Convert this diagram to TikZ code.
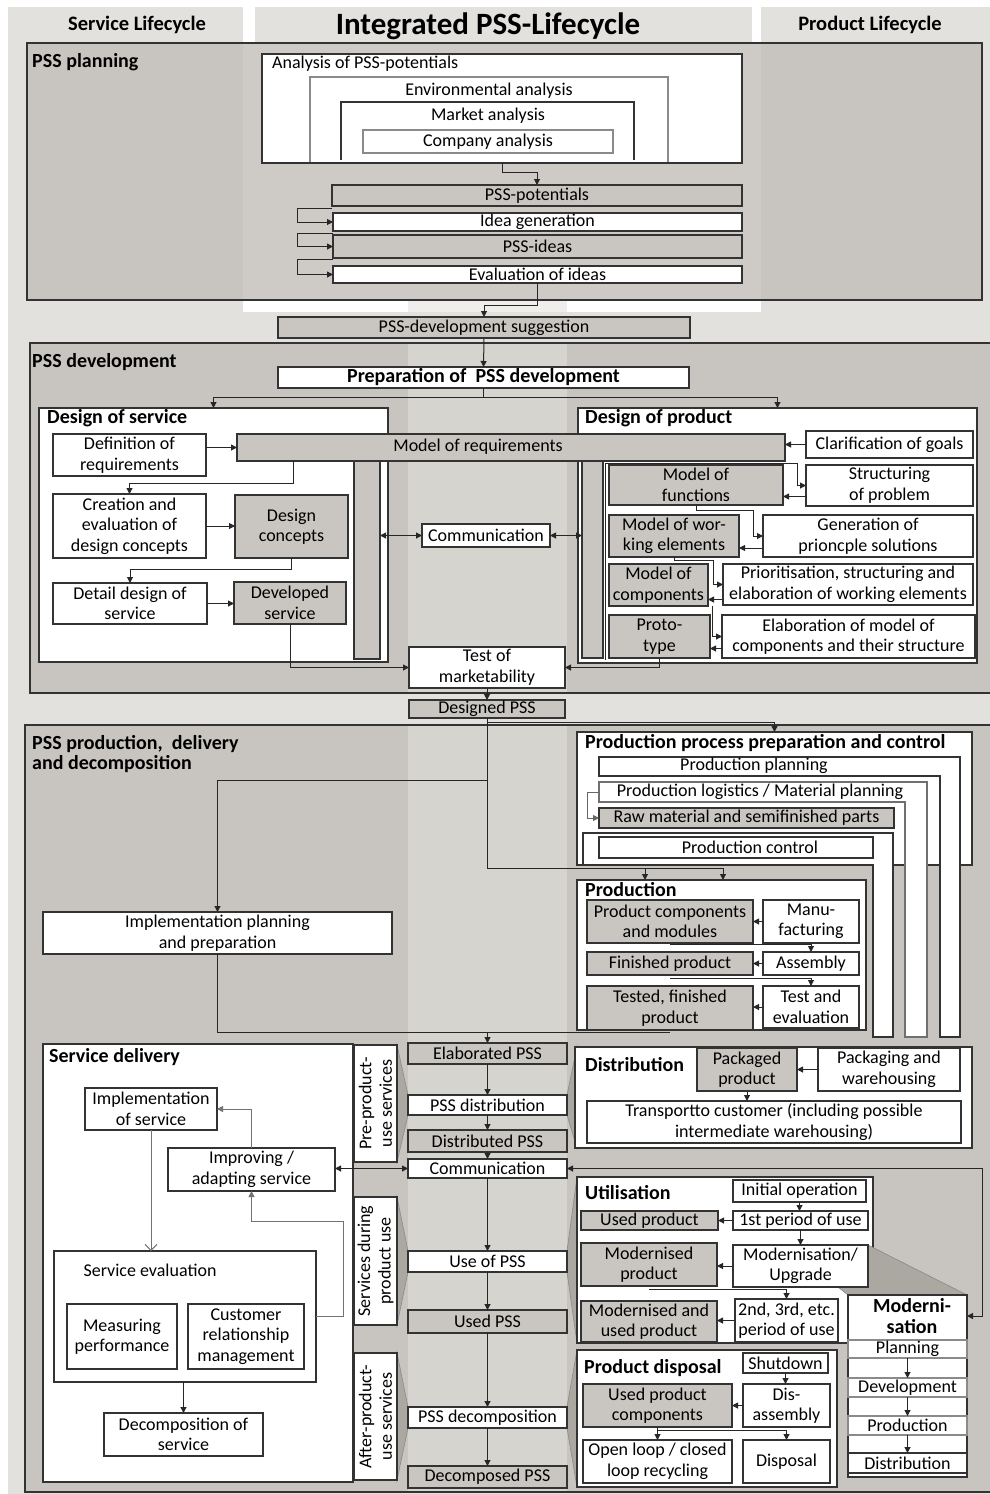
\documentclass[tikz,border=0pt]{standalone}
\usepackage{fontspec}
\setmainfont{Carlito}
\usetikzlibrary{arrows.meta}
\definecolor{colbg}{HTML}{E2E1DD}
\definecolor{secg}{HTML}{C2BFB9}
\definecolor{nodeg}{HTML}{C9C6C1}
\definecolor{fung}{HTML}{ABA7A1}
\definecolor{bd}{HTML}{333333}
\definecolor{lbd}{HTML}{8A8A8A}
\newcommand\fnorm{\fontsize{18}{20.5}\selectfont}
\newcommand\fbold{\fontsize{20}{20.5}\selectfont\bfseries}
\newcommand\fhead{\fontsize{20.5}{22}\selectfont\bfseries}
\newcommand\ftitle{\fontsize{31}{33}\selectfont\bfseries}
% box from corner (x1,y1) to corner (x2,y2)
\newcommand\mkbox[7]{%
  \pgfmathsetmacro\bxw{#5-#3}%
  \pgfmathsetmacro\bxh{#6-#4}%
  \node[#1,anchor=north west,minimum width=\bxw pt,minimum height=\bxh pt] (#2) at (#3,#4) {#7};}
\tikzset{
  base/.style={draw=bd,line width=1.1pt,inner sep=0pt,outer sep=0pt,align=center,font=\fnorm},
  wb/.style={base,fill=white},
  gb/.style={base,fill=nodeg},
  lw/.style={base,fill=white,draw=lbd},
  tk/.style={line width=1.8pt},
  txt/.style={font=\fnorm,inner sep=0pt},
  lbl/.style={font=\fbold,inner sep=0pt,anchor=west},
  sec/.style={fill=secg,fill opacity=0.8},
  secb/.style={draw=bd,line width=1.3pt},
  tp/.tip={Triangle[length=6pt,width=6pt]},
  arr/.style={draw=black!85,line width=1pt,-{tp}},
  arrb/.style={draw=black!85,line width=1pt,{tp}-{tp}},
  ln/.style={draw=black!85,line width=1pt},
  garr/.style={draw=black!55,line width=1pt,-{tp}},
  fun/.style={fill=fung,draw=lbd,line width=0.6pt},
  vl/.style={base,fill=white,rotate=90},
}
\begin{document}
\begin{tikzpicture}[x=1pt,y=-1pt]
\useasboundingbox (0,0) rectangle (990,1494);
% page and column backgrounds
\fill[white] (0,0) rectangle (990,1494);
\fill[colbg] (8,7) rectangle (990,1494);
\fill[white] (243,0) rectangle (255,43);
\fill[white] (752,0) rectangle (761,43);
\fill[white] (243,43) rectangle (761,312);
\node[font=\fhead] (svlc) at (137,25) {Service Lifecycle};
\node[font=\ftitle] (title) at (488,26) {Integrated PSS-Lifecycle};
\node[font=\fhead] (prlc) at (870,25) {Product Lifecycle};
% phase panels
\fill[sec] (27,43) rectangle (982,300);
\fill[sec] (30,343) rectangle (995,693);
\fill[sec] (25,725) rectangle (995,1492);
\fill[colbg,opacity=0.55] (408,300) rectangle (567,1494);
\draw[secb] (27,43) rectangle (982,300);
\draw[secb] (30,343) rectangle (995,693);
\draw[secb] (25,725) rectangle (995,1492);
\node[lbl] (plan) at (32,62) {PSS planning};
\node[lbl] (dev) at (32,362) {PSS development};
\node[lbl,anchor=north west,align=left] (prd) at (32,735) {PSS production,\ \ delivery\\and decomposition};

% ---------------- PSS planning
\mkbox{wb}{apot}{262}{54}{742}{163}{}
\node[txt,anchor=west] (apott) at (272,64) {Analysis of PSS-potentials};
\draw[draw=lbd,line width=1.1pt,fill=white] (310,163) -- (310,77) -- (668,77) -- (668,163);
\node[txt] (envt) at (489,91) {Environmental analysis};
\draw[draw=bd,line width=1.3pt] (341,160) -- (341,102) -- (634,102) -- (634,160);
\node[txt] (mktt) at (488,116) {Market analysis};
\mkbox{lw}{comp}{363}{130}{613}{153}{Company analysis}
\draw[draw=bd,line width=1.1pt] (262,163) -- (742,163);
\mkbox{gb}{pot}{332}{185}{742}{206}{PSS-potentials}
\mkbox{wb}{idg}{333}{213}{742}{231}{Idea generation}
\mkbox{gb}{ids}{333}{235}{742}{258}{PSS-ideas}
\mkbox{wb}{evi}{333}{266}{742}{283}{Evaluation of ideas}
\draw[arr] (apot.south) -- ++(0,9) -| (pot.north);
\draw[arr] ([yshift=-2pt]pot.south west) -| ([xshift=-36pt]idg.west) -- (idg.west);
\draw[arr] ([yshift=-2pt]idg.south west) -| ([xshift=-36pt]ids.west) -- (ids.west);
\draw[arr] ([yshift=-1pt]ids.south west) -| ([xshift=-36pt]evi.west) -- (evi.west);
\mkbox{gb}{sug}{278}{317}{690}{338}{PSS-development suggestion}
\draw[arr] (evi.south) -- ++(0,22) -| (sug.north);

% ---------------- PSS development
\mkbox{wb}{prep}{278}{367}{689}{388}{\fbold Preparation of\ \ PSS development}
\draw[arr] (sug.south) -- (prep.north);
\mkbox{wb}{dsv}{39}{408}{388}{662}{}
\mkbox{wb}{dpr}{578}{408}{977}{663}{}
\node[lbl] (dsvt) at (47,418) {Design of service};
\node[lbl] (dprt) at (585,418) {Design of product};
\draw[ln] (prep.south) -- ++(0,9) coordinate (pj);
\draw[arr] (pj) -| (dsv.north);
\draw[arr] (pj) -| (dpr.north);

\mkbox{wb}{defr}{53}{434}{206}{476}{Definition of\\requirements}
\mkbox{gb}{mreq}{237}{434}{785}{461}{}
\node[txt] (mreqt) at (478,447) {Model of requirements};
\draw[arr] (defr.east |- mreq.west) -- (mreq.west);
\mkbox{wb}{cre}{53}{494}{206}{558}{Creation and\\evaluation of\\design concepts}
\mkbox{gb}{dcon}{235}{495}{348}{558}{Design\\concepts}
\draw[arr] (cre.east) -- (dcon.west |- cre.east);
\coordinate (x293) at (293,0);
\draw[arr] (mreq.south -| x293) -- ++(0,22) -| (cre.north);
\mkbox{wb}{ddet}{53}{583}{207}{624}{Detail design of\\service}
\mkbox{gb}{dsrv}{234}{582}{346}{624}{Developed\\service}
\draw[arr] (ddet.east) -- (dsrv.west |- ddet.east);
\draw[arr] (dcon.south) -- ++(0,11) -| (ddet.north);
\mkbox{gb}{svbar}{354}{461}{380}{659}{}
\mkbox{wb}{com1}{422}{524}{550}{547}{Communication}
\mkbox{gb}{pdbar}{582}{461}{603}{658}{}
\draw[arrb] (svbar.east |- com1.west) -- (com1.west);
\draw[arrb] (com1.east) -- (pdbar.west |- com1.east);
\mkbox{wb}{tmk}{409}{647}{565}{688}{Test of\\marketability}
\draw[arr] (dsrv.south) |- (tmk.west);

\mkbox{wb}{clar}{806}{431}{973}{458}{Clarification of goals}
\draw[arr] (clar.west) -- (mreq.east |- clar.west);
\draw[ln,line width=0.6pt] (605,660) -- (605,463) -- (790,463);
\mkbox{gb}{mfun}{609}{465}{783}{505}{Model of\\functions}
\mkbox{wb,tk}{stru}{806}{465}{973}{506}{Structuring\\of problem}
\draw[arr] ([yshift=-2pt]mreq.south east) -- ++(12,0) |- (stru.west);
\draw[arr] ([yshift=-11pt]stru.west) -- ([yshift=-11pt]stru.west -| mfun.east);
\mkbox{gb}{mwrk}{609}{515}{739}{557}{Model of wor-\\king elements}
\mkbox{wb}{gen}{763}{515}{973}{557}{Generation of\\prioncple solutions}
\draw[arr] (mfun.south) -- ++(0,5) -- ++(57,0) |- (gen.west);
\draw[arr] ([yshift=-12pt]gen.west) -- ([yshift=-12pt]gen.west -| mwrk.east);
\mkbox{gb}{mcmp}{609}{564}{708}{606}{Model of\\components}
\mkbox{wb}{prio}{723}{564}{973}{605}{Prioritisation, structuring and\\elaboration of working elements}
\draw[arr] (mwrk.south) -- ++(0,3) -- ++(39,0) |- (prio.west);
\draw[arr] ([yshift=-15pt]prio.west) -- ([yshift=-15pt]prio.west -| mcmp.east);
\mkbox{gb}{prot}{609}{615}{710}{658}{Proto-\\type}
\mkbox{wb}{elab}{722}{615}{975}{658}{Elaboration of model of\\components and their structure}
\draw[arr] ([xshift=4pt]mcmp.south east) |- (elab.west);
\draw[arr] ([yshift=-12pt]elab.west) -- ([yshift=-12pt]elab.west -| prot.east);
\draw[arr] (prot.south) |- (tmk.east);
\mkbox{gb}{dpss}{409}{700}{565}{718}{Designed PSS}
\draw[arr] (tmk.south) -- (dpss.north);

% ---------------- PSS production, delivery and decomposition
\mkbox{wb}{impl}{43}{912}{392}{954}{Implementation planning\\and preparation}
\draw[arr] (dpss.south) -- ++(0,62) -| (impl.north);
\mkbox{wb}{ppc}{577}{732}{972}{865}{}
\node[lbl] (ppct) at (585,743) {Production process preparation and control};
\draw[arr] ([yshift=-4pt]dpss.south) -| (ppc.north);
\draw[fill=white,draw=bd,line width=1.1pt] (599,757) -- (960,757) -- (960,1037) -- (940,1037) -- (940,776) -- (599,776) -- cycle;
\node[txt] (pplt) at (754,766) {Production planning};
\draw[fill=white,draw=bd!70,line width=1.1pt] (599,782) -- (927,782) -- (927,1037) -- (905,1037) -- (905,802) -- (599,802) -- cycle;
\node[txt] (plgt) at (760,792) {Production logistics / Material planning};
\mkbox{gb}{raw}{599}{808}{894}{828}{Raw material and semifinished parts}
\coordinate (plgw) at (599,792);
\draw[arr,draw=black!60] (plgw) -- ++(-12,0) |- (raw.west);
\draw[fill=white,draw=bd,line width=1.1pt] (583,833) -- (893,833) -- (893,1037) -- (873,1037) -- (873,865) -- (583,865) -- cycle;
\mkbox{wb}{pctl}{599}{837}{873}{858}{}
\node[txt] (pctt) at (750,847) {Production control};
\coordinate (pj2) at (723,868);
\draw[ln] (dpss.south) |- (pj2);
\mkbox{wb}{prod}{577}{880}{866}{1030}{}
\node[lbl] (prodt) at (585,890) {Production};
\draw[arr] (pj2) -- (pj2 |- prod.north);
\coordinate (x645) at (645,0);
\draw[arr] (x645 |- pj2) -- (x645 |- prod.north);
\mkbox{gb}{pcm}{587}{900}{753}{943}{Product components\\and modules}
\mkbox{wb}{manu}{763}{900}{859}{943}{Manu-\\facturing}
\draw[arr] (manu.west) -- (pcm.east);
\mkbox{gb}{fin}{587}{952}{753}{975}{Finished product}
\mkbox{wb}{asm}{763}{952}{859}{975}{Assembly}
\draw[arr] ([yshift=-1pt]pcm.south) -| (asm.north);
\draw[arr] (asm.west) -- (fin.east);
\mkbox{gb}{tst}{587}{986}{753}{1030}{Tested, finished\\product}
\mkbox{wb}{tev}{763}{986}{859}{1028}{Test and\\evaluation}
\draw[arr] ([yshift=-3pt]fin.south) -| (tev.north);
\draw[arr] (tev.west) -- (tst.east |- tev.west);

% zoom funnels
\draw[fun] (397,1045) -- (408,1095) -- (408,1115) -- (397,1162) -- cycle;
\draw[fun] (567,1095) -- (577,1047) -- (577,1148) -- (567,1115) -- cycle;
\draw[fun] (397,1197) -- (408,1251) -- (408,1272) -- (397,1325) -- cycle;
\draw[fun] (567,1251) -- (577,1177) -- (577,1343) -- (567,1272) -- cycle;
\draw[fun] (397,1353) -- (408,1407) -- (408,1428) -- (397,1480) -- cycle;
\draw[fun] (567,1407) -- (577,1350) -- (577,1487) -- (567,1428) -- cycle;

% central PSS chain
\mkbox{gb}{epss}{408}{1043}{567}{1064}{Elaborated PSS}
\draw[arr] (impl.south) -- ++(0,78) -| (epss.north);
\draw[ln] ([yshift=-2pt]tst.south) -- ([yshift=-2pt]tst.south -| epss.north);
\mkbox{wb}{pdis}{408}{1095}{567}{1115}{PSS distribution}
\mkbox{gb}{dps2}{408}{1130}{567}{1152}{Distributed PSS}
\mkbox{wb}{com2}{408}{1159}{567}{1178}{Communication}
\mkbox{wb}{upss}{408}{1251}{567}{1272}{Use of PSS}
\mkbox{gb}{usps}{408}{1310}{567}{1333}{Used PSS}
\mkbox{wb}{pdec}{408}{1407}{567}{1428}{PSS decomposition}
\mkbox{gb}{dcps}{408}{1466}{567}{1488}{Decomposed PSS}
\draw[arr] (epss.south) -- (pdis.north);
\draw[arr] (pdis.south) -- (dps2.north);
\draw[arr] (dps2.south) -- (com2.north);
\draw[arr] (com2.south) -- (upss.north);
\draw[arr] (upss.south) -- (usps.north);
\draw[arr] (usps.south) -- (pdec.north);
\draw[arr] (pdec.south) -- (dcps.north);

% service delivery
\mkbox{wb}{sdel}{43}{1044}{353}{1482}{}
\node[lbl] (sdelt) at (49,1057) {Service delivery};
\mkbox{wb}{imps}{85}{1088}{217}{1130}{Implementation\\of service}
\mkbox{wb}{impr}{168}{1148}{335}{1191}{Improving /\\adapting service}
\draw[garr] (impr.north) |- (imps.east);
\mkbox{wb}{sev}{54}{1251}{316}{1382}{}
\node[txt] (sevt) at (150,1270) {Service evaluation};
\draw[draw=black!55,line width=1pt,-{Straight Barb[length=6pt,width=12pt]}] (imps.south) -- (imps.south |- sev.north);
\mkbox{wb,tk}{meas}{67}{1304}{177}{1369}{Measuring\\performance}
\mkbox{wb,tk}{crm}{188}{1304}{304}{1369}{Customer\\relationship\\management}
\coordinate (g1) at (343,1221);
\draw[garr] (sev.east) -| (g1) -| (impr.south);
\mkbox{wb}{dsv2}{104}{1413}{263}{1456}{Decomposition of\\service}
\draw[arr] (dsv2.north |- sev.south) -- (dsv2.north);
\node[vl,minimum width=117pt,minimum height=43pt] (prel) at (375.5,1103.5) {Pre-product-\\use services};
\node[vl,minimum width=128pt,minimum height=43pt] (durl) at (375.5,1261) {Services during\\product use};
\node[vl,minimum width=127pt,minimum height=43pt] (aftl) at (375.5,1416.5) {After-product-\\use services};
\draw[arrb] (impr.east |- com2.west) -- (com2.west);

% distribution
\mkbox{wb}{dist}{575}{1047}{972}{1148}{}
\node[lbl] (distt) at (585,1065) {Distribution};
\mkbox{gb}{pkd}{697}{1048}{797}{1091}{Packaged\\product}
\mkbox{wb}{pkw}{818}{1048}{960}{1091}{Packaging and\\warehousing}
\draw[arr] (pkw.west) -- (pkd.east);
\mkbox{wb}{trn}{587}{1101}{961}{1143}{Transportto customer (including possible\\intermediate warehousing)}
\draw[arr] (pkd.south) -- (pkd.south |- trn.north);

% utilisation
\mkbox{wb}{util}{577}{1177}{873}{1343}{}
\node[lbl] (utilt) at (585,1193) {Utilisation};
\draw[fun] (868,1245) -- (967,1295) -- (848,1295) -- (838,1287) -- cycle;
\mkbox{wb}{iop}{733}{1180}{866}{1202}{Initial operation}
\mkbox{wb,tk}{p1}{733}{1211}{868}{1230}{1st period of use}
\mkbox{gb}{usp}{581}{1211}{718}{1230}{Used product}
\draw[arr] (iop.south) -- (iop.south |- p1.north);
\draw[arr] (p1.west) -- (usp.east);
\mkbox{gb}{mdp}{581}{1243}{717}{1286}{Modernised\\product}
\mkbox{wb}{mup}{733}{1245}{868}{1287}{Modernisation/\\Upgrade}
\draw[arr] (p1.south) -- (p1.south |- mup.north);
\draw[arr] (mup.west) -- (mdp.east |- mup.west);
\mkbox{gb}{mu2}{581}{1301}{717}{1342}{Modernised and\\used product}
\mkbox{wb}{p2}{735}{1299}{838}{1342}{2nd, 3rd, etc.\\period of use}
\draw[arr] ([yshift=-3pt]mdp.south) -| (p2.north);
\draw[arr] (p2.west) -- (mu2.east |- p2.west);

% modernisation
\mkbox{wb}{mod}{848}{1295}{967}{1477}{}
\node[font=\fbold,align=center,inner sep=0pt] (modt) at (912,1316) {Moderni-\\sation};
\mkbox{lw}{mpl}{848}{1340}{967}{1358}{Planning}
\mkbox{lw}{mdv}{848}{1378}{967}{1397}{Development}
\mkbox{lw}{mpr}{848}{1416}{967}{1435}{Production}
\mkbox{wb}{mds}{848}{1453}{967}{1473}{Distribution}
\draw[arr] (mpl.south) -- (mdv.north);
\draw[arr] (mdv.south) -- (mpr.north);
\draw[arr] (mpr.south) -- (mds.north);
\coordinate (x982) at (982,0);
\draw[arrb] (com2.east) -- (com2.east -| x982) |- ([yshift=-21pt]mod.north east);

% product disposal
\mkbox{wb}{pdsp}{577}{1350}{837}{1487}{}
\node[lbl] (pdspt) at (584,1368) {Product disposal};
\mkbox{wb}{shd}{743}{1353}{828}{1373}{Shutdown}
\mkbox{wb,tk}{dsa}{743}{1384}{830}{1427}{Dis-\\assembly}
\mkbox{gb}{upc}{583}{1384}{732}{1427}{Used product\\components}
\draw[arr] (shd.south) -- (shd.south |- dsa.north);
\draw[arr] (dsa.west) -- (upc.east);
\mkbox{wb}{olr}{583}{1440}{732}{1483}{Open loop / closed\\loop recycling}
\mkbox{wb}{dsp}{743}{1440}{830}{1483}{Disposal}
\draw[arr] (upc.south) -- (olr.north);
\draw[arr] ([yshift=-3pt]upc.south) -| (dsp.north);
\end{tikzpicture}
\end{document}
